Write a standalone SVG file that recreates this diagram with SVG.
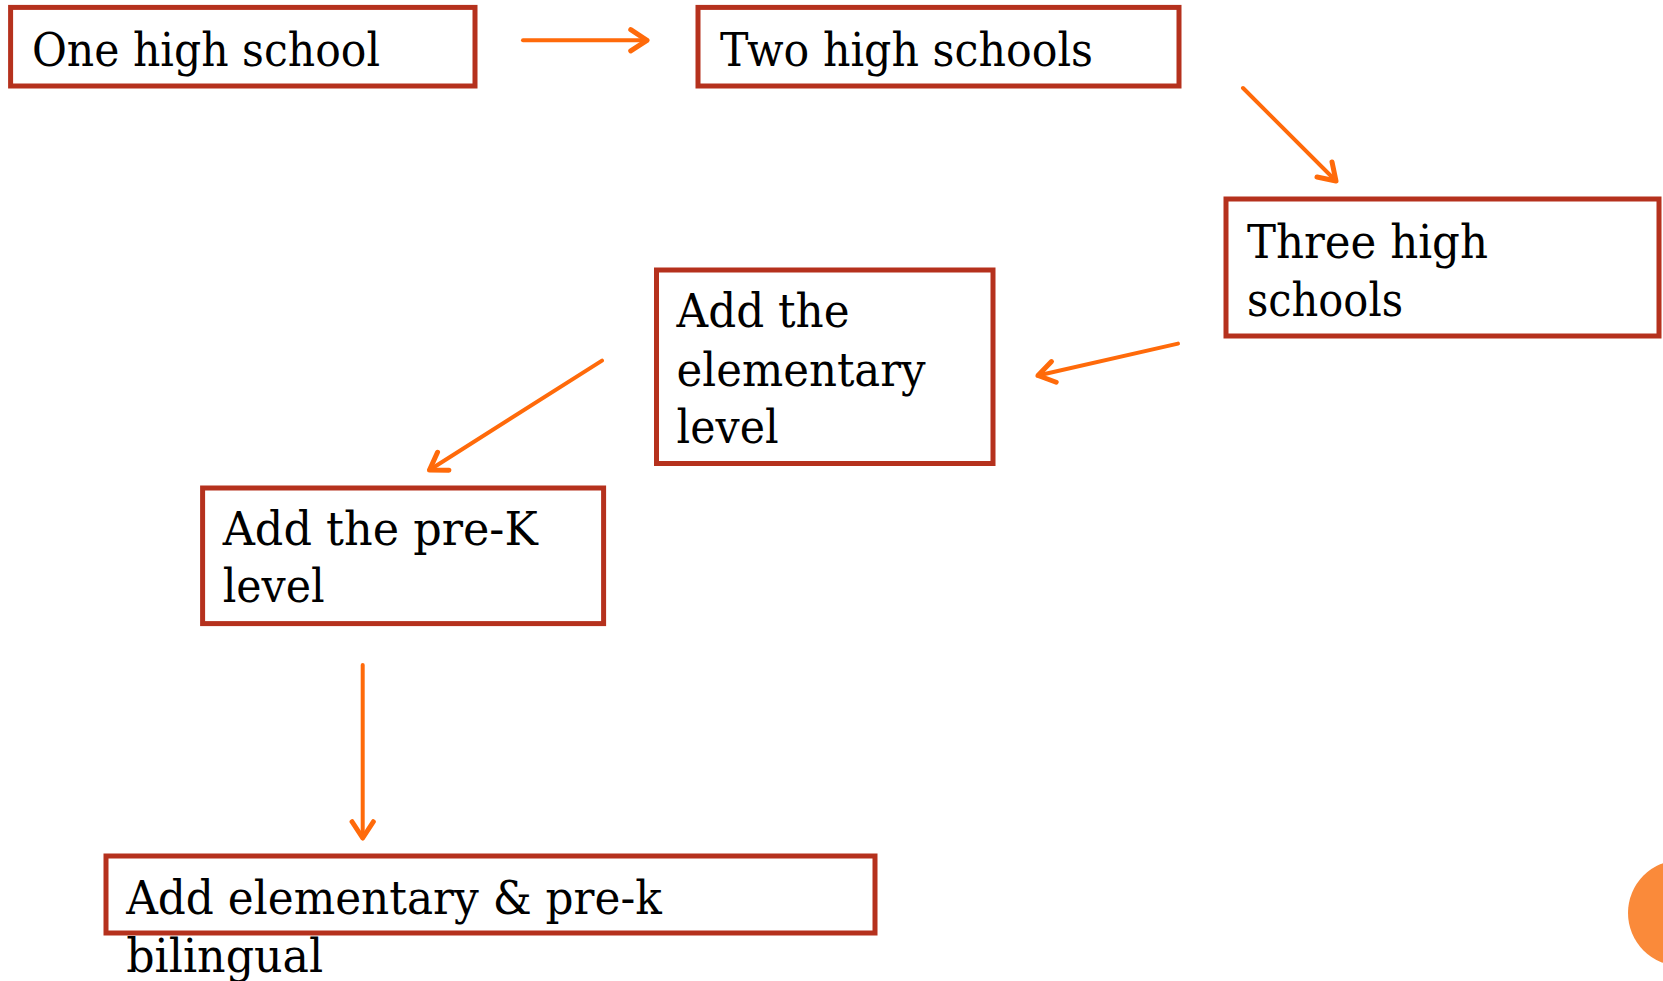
<svg xmlns="http://www.w3.org/2000/svg" width="1663" height="981" viewBox="0 0 1663 981">
<style>
.box{fill:#ffffff;stroke:#B5311D;stroke-width:5}
.lbl{font-family:"DejaVu Serif","Liberation Serif",serif;font-size:46px;fill:#000000}
.conn{stroke:#FF6A0A;stroke-width:4;fill:none;stroke-linecap:round}
</style>
<defs>
<marker id="ah" markerUnits="userSpaceOnUse" markerWidth="30" markerHeight="30" viewBox="-16 -12 20 24" refX="0" refY="0" orient="auto">
<path d="M-13,-8.5 L0,0 L-13,8.5" fill="none" stroke="#FF6A0A" stroke-width="4" stroke-linecap="round" stroke-linejoin="round"/>
</marker>
</defs>
<rect width="1663" height="981" fill="#ffffff"/>
<circle cx="1681" cy="913" r="53" fill="#FA8A3A"/>
<g id="connectors">
<line class="conn" x1="523" y1="40.3" x2="647" y2="40.3" marker-end="url(#ah)"/>
<line class="conn" x1="1243" y1="88" x2="1336" y2="181" marker-end="url(#ah)"/>
<line class="conn" x1="1178" y1="343.6" x2="1038" y2="375.5" marker-end="url(#ah)"/>
<line class="conn" x1="602" y1="360.6" x2="429.5" y2="470" marker-end="url(#ah)"/>
<line class="conn" x1="362.7" y1="665" x2="362.7" y2="838" marker-end="url(#ah)"/>
</g>
<g id="node1">
<rect class="box" x="10.6" y="7.4" width="464.4" height="78.6"/>
<text class="lbl" x="32" y="65.8" textLength="348" lengthAdjust="spacingAndGlyphs">One high school</text>
</g>
<g id="node2">
<rect class="box" x="698" y="7.4" width="481" height="78.6"/>
<text class="lbl" x="720" y="65.8" textLength="373" lengthAdjust="spacingAndGlyphs">Two high schools</text>
</g>
<g id="node3">
<rect class="box" x="1226" y="199" width="433" height="137"/>
<text class="lbl" x="1247" y="257.7" textLength="241" lengthAdjust="spacingAndGlyphs">Three high</text>
<text class="lbl" x="1247" y="316" textLength="156" lengthAdjust="spacingAndGlyphs">schools</text>
</g>
<g id="node4">
<rect class="box" x="656.5" y="270" width="336.5" height="193.5"/>
<text class="lbl" x="676.6" y="326.7" textLength="173" lengthAdjust="spacingAndGlyphs">Add the</text>
<text class="lbl" x="676.6" y="386" textLength="249" lengthAdjust="spacingAndGlyphs">elementary</text>
<text class="lbl" x="676.6" y="443.3" textLength="102" lengthAdjust="spacingAndGlyphs">level</text>
</g>
<g id="node5">
<rect class="box" x="202.6" y="488" width="401" height="135.6"/>
<text class="lbl" x="222.7" y="545" textLength="315" lengthAdjust="spacingAndGlyphs">Add the pre-K</text>
<text class="lbl" x="222.7" y="602.4" textLength="102" lengthAdjust="spacingAndGlyphs">level</text>
</g>
<g id="node6">
<rect class="box" x="106" y="856" width="769" height="77"/>
<text class="lbl" x="126.2" y="914" textLength="535.6" lengthAdjust="spacingAndGlyphs">Add elementary &amp; pre-k</text>
<text class="lbl" x="126.2" y="971.5" textLength="197" lengthAdjust="spacingAndGlyphs">bilingual</text>
</g>
</svg>
